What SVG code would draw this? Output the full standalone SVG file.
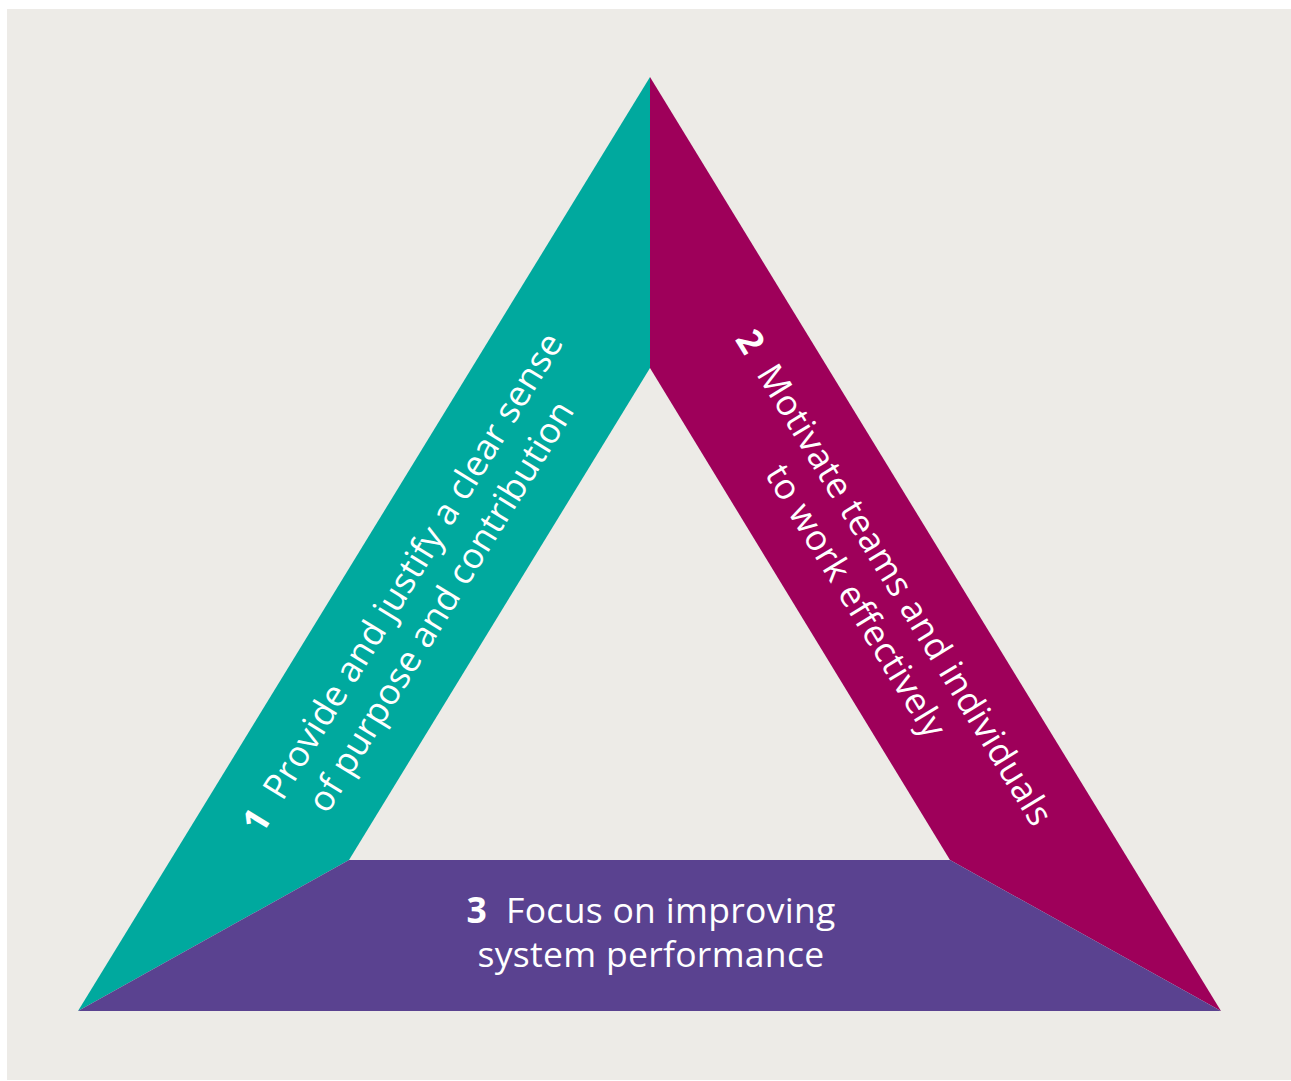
<svg xmlns="http://www.w3.org/2000/svg" width="1291" height="1081" viewBox="0 0 1291 1081">
<style>
.lbl{font-family:"Open Sans","Noto Sans","Liberation Sans",sans-serif;font-size:35.5px;letter-spacing:0.3px;fill:#ffffff;text-anchor:middle}
.wide{letter-spacing:0.6px}
.num{font-weight:bold}
</style>
<rect x="0" y="0" width="1291" height="1081" fill="#ffffff"/>
<rect x="7" y="9" width="1284" height="1071" fill="#EDEBE7"/>
<g id="connectors"></g>
<g id="node1">
<polygon points="650,77 650,368 349,860 78,1011" fill="#00A99E"/>
<text class="lbl" transform="translate(413,589) rotate(-58.5)"><tspan x="0" y="0"><tspan class="num">1</tspan>&#160; Provide and justify a clear sense</tspan><tspan x="0" y="45">of purpose and contribution</tspan></text>
</g>
<g id="node2">
<polygon points="650,77 1221,1011 950,860 650,368" fill="#9E005A"/>
<text class="lbl wide" transform="translate(884,584) rotate(58.6)"><tspan x="0" y="0"><tspan class="num">2</tspan>&#160; Motivate teams and individuals</tspan><tspan x="0" y="45">to work effectively</tspan></text>
</g>
<g id="node3">
<polygon points="78,1011 349,860 950,860 1221,1011" fill="#5A4290"/>
<text class="lbl" x="651" y="923"><tspan class="num">3</tspan>&#160; Focus on improving</text>
<text class="lbl" x="651" y="967">system performance</text>
</g>
</svg>
